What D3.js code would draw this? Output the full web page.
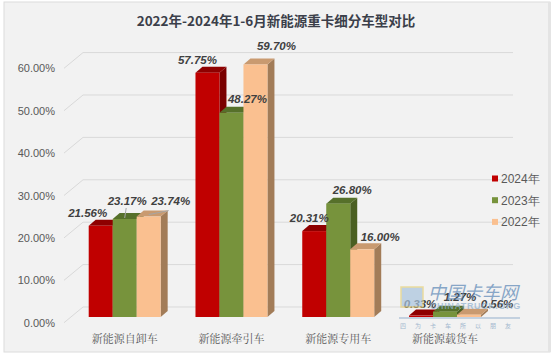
<!DOCTYPE html>
<html>
<head>
<meta charset="utf-8">
<script src="https://cdn.jsdelivr.net/npm/d3@7"></script>
<style>
  body { margin: 0; background: #fff; }
  svg { display: block; }
  .tick text { font-family: "Liberation Sans", Arial, sans-serif; font-size: 11px; fill: #595959; }
</style>
</head>
<body>
<div id="wrapper"></div>
<script>
// data
const categories = ["新能源自卸车", "新能源牵引车", "新能源专用车", "新能源载货车"]
const seriesNames = ["2024年", "2023年", "2022年"]
const values2024 = [21.56, 57.75, 20.31, 0.33]
const values2023 = [23.17, 48.27, 26.80, 1.27]
const values2022 = [23.74, 59.70, 16.00, 0.56]
const yTicks = [0, 10, 20, 30, 40, 50, 60]

const title = "2022年-2024年1-6月新能源重卡细分车型对比"

const seriesValues = [values2024, values2023, values2022]
const colors = {
  front: ["#c00000", "#77933c", "#fac090"],
  top:   ["#8e0000", "#56702a", "#c99a70"],
  side:  ["#7a0000", "#4a5f22", "#a27c58"],
}

const width = 555
const height = 354
const depth = { dx: 7, dy: -6 }
const wall = { dx: 19, dy: -15.7 }

const wrapper = d3.select("#wrapper")
  .append("svg")
    .attr("width", width)
    .attr("height", height)

// frame
wrapper.append("rect")
    .attr("x", 4).attr("y", 2)
    .attr("width", 546).attr("height", 350)
    .attr("fill", "#f2f2f2")
    .attr("stroke", "#dcdcdc")
wrapper.append("rect")
    .attr("x", 548).attr("y", 2)
    .attr("width", 3).attr("height", 350)
    .attr("fill", "#e4e4e4")

wrapper.append("text")
    .attr("x", 276)
    .attr("y", 26)
    .attr("text-anchor", "middle")
    .style("font-family", "'Noto Sans CJK SC', sans-serif")
    .style("font-weight", "bold")
    .style("font-size", "13.5px")
    .style("fill", "#3b3f4a")
    .text(title)

// scales
const xScale = d3.scaleBand()
  .domain(categories)
  .range([71.3, 498.4])
  .paddingInner(0.326)
  .paddingOuter(0.163)

const xInner = d3.scaleBand()
  .domain(seriesNames)
  .range([0, xScale.bandwidth()])
  .padding(0)

const yScale = d3.scaleLinear()
  .domain([0, 60])
  .range([317, 63.2])

// back wall (gridlines)
const yBack = d3.scaleLinear()
  .domain([0, 60])
  .range([307, 52.6])

const wallLeft = 83
const wallRight = 513

const grid = wrapper.append("g")
grid.selectAll(".grid")
    .data(yTicks)
  .enter().append("line")
    .attr("x1", wallLeft)
    .attr("x2", wallRight)
    .attr("y1", d => yBack(d))
    .attr("y2", d => yBack(d))
    .attr("stroke", "#d9d9d9")
grid.selectAll(".diag")
    .data(yTicks)
  .enter().append("line")
    .attr("x1", wallLeft - wall.dx)
    .attr("x2", wallLeft)
    .attr("y1", d => yBack(d) - wall.dy)
    .attr("y2", d => yBack(d))
    .attr("stroke", "#d9d9d9")

// y axis labels at the front edge
const yFront = yBack.copy().range(yBack.range().map(v => v - wall.dy))
const yAxis = wrapper.append("g")
    .attr("transform", "translate(57,0)")
    .call(d3.axisLeft(yFront).tickValues(yTicks).tickSize(0).tickPadding(2)
      .tickFormat(d => d3.format(".2f")(d) + "%"))
yAxis.select(".domain").remove()

// bars
const bars = wrapper.append("g")
categories.forEach((cat, ci) => {
  seriesNames.forEach((s, si) => {
    const v = seriesValues[si][ci]
    const x0 = xScale(cat) + xInner(s)
    const x1 = x0 + xInner.bandwidth()
    const y0 = yScale(0)
    const y1 = yScale(v)
    const pts = a => a.map(p => p.join(",")).join(" ")
    bars.append("polygon")
        .attr("points", pts([[x1, y1], [x1 + depth.dx, y1 + depth.dy], [x1 + depth.dx, y0 + depth.dy], [x1, y0]]))
        .attr("fill", colors.side[si])
    bars.append("polygon")
        .attr("points", pts([[x0, y1], [x0 + depth.dx, y1 + depth.dy], [x1 + depth.dx, y1 + depth.dy], [x1, y1]]))
        .attr("fill", colors.top[si])
    bars.append("rect")
        .attr("x", x0)
        .attr("y", y1)
        .attr("width", x1 - x0)
        .attr("height", y0 - y1)
        .attr("fill", colors.front[si])
  })
})

// value labels
const labelOffset = [{ dx: -10, dy: -13 }, { dx: 14, dy: -14 }, { dx: 20, dy: -16 }]
const labelNudge = [
  [[-3, 0], [-11.5, -4], [2, 0]],
  [[0, 0], [2, 0], [1, -2]],
  [[5, 0], [0, 0], [-2, 4]],
  [[9, 1], [1, -1], [8, 5]],
]
const labels = wrapper.append("g")
    .style("font-family", "'Liberation Sans', Arial, sans-serif")
    .style("font-weight", "bold")
    .style("font-style", "italic")
    .style("font-size", "11.5px")
    .style("fill", "#404040")
categories.forEach((cat, ci) => {
  seriesNames.forEach((s, si) => {
    const v = seriesValues[si][ci]
    const cx = xScale(cat) + xInner(s) + xInner.bandwidth() / 2
    const lx = cx + labelOffset[si].dx + labelNudge[ci][si][0]
    const ly = yScale(v) + labelOffset[si].dy + labelNudge[ci][si][1]
    labels.append("text")
        .attr("x", lx)
        .attr("y", ly + 4)
        .attr("text-anchor", "middle")
        .text(d3.format(".2f")(v) + "%")
  })
})

// leader lines for the first group
const g1 = categories[0]
const greenTop = yScale(values2023[0])
const peachTop = yScale(values2022[0])
wrapper.append("line")
    .attr("x1", xScale(g1) + xInner(seriesNames[1]) + 13.5)
    .attr("x2", xScale(g1) + xInner(seriesNames[1]) + 12)
    .attr("y1", greenTop - 11)
    .attr("y2", greenTop - 1)
    .attr("stroke", "#a6a6a6")
wrapper.append("line")
    .attr("x1", xScale(g1) + xInner(seriesNames[2]) + 12)
    .attr("x2", xScale(g1) + xInner(seriesNames[2]) + 32)
    .attr("y1", peachTop - 2)
    .attr("y2", peachTop - 6)
    .attr("stroke", "#a6a6a6")

// category labels
wrapper.append("g").selectAll("text")
    .data(categories)
  .enter().append("text")
    .attr("x", d => xScale(d) + xScale.bandwidth() / 2)
    .attr("y", 343)
    .attr("text-anchor", "middle")
    .style("font-family", "'Noto Serif CJK SC', 'Noto Sans CJK SC', serif")
    .style("font-size", "11px")
    .style("fill", "#595959")
    .text(d => d)

// legend
const legend = wrapper.append("g")
    .attr("transform", "translate(492,0)")
seriesNames.forEach((s, i) => {
  const y = 178.5 + i * 21.7
  legend.append("rect")
      .attr("x", 0).attr("y", y - 3)
      .attr("width", 6).attr("height", 6)
      .attr("fill", colors.front[i])
  legend.append("text")
      .attr("x", 9).attr("y", y + 4.3)
      .style("font-family", "'Liberation Sans', Arial, sans-serif")
      .style("font-size", "12px")
      .style("fill", "#595959")
      .text(s)
})

// watermark
const wm = wrapper.append("g").attr("opacity", 0.7)
wm.append("rect")
    .attr("x", 401).attr("y", 287).attr("width", 22).attr("height", 20)
    .attr("fill", "#a9c4de")
    .attr("stroke", "#e8d27a")
    .attr("stroke-width", 1.5)
wm.append("text")
    .attr("x", 428).attr("y", 299)
    .style("font-family", "'Noto Sans CJK SC', sans-serif")
    .style("font-size", "18px")
    .style("font-style", "italic")
    .style("fill", "#5a86b6")
    .text("中国卡车网")
wm.append("text")
    .attr("x", 430).attr("y", 309)
    .style("font-family", "'Liberation Sans', Arial, sans-serif")
    .style("font-size", "9px")
    .style("font-weight", "bold")
    .style("letter-spacing", "0.6px")
    .style("fill", "#8fb0cf")
    .text("CHINATRUCK.ORG")
wm.append("line")
    .attr("x1", 399).attr("x2", 520)
    .attr("y1", 318).attr("y2", 318)
    .attr("stroke", "#6f95bd")
wm.append("text")
    .attr("x", 400).attr("y", 328)
    .style("font-family", "'Noto Sans CJK SC', sans-serif")
    .style("font-size", "6px")
    .style("letter-spacing", "9px")
    .style("fill", "#7f9fbf")
    .text("四为卡车所以朋友")
</script>
</body>
</html>
